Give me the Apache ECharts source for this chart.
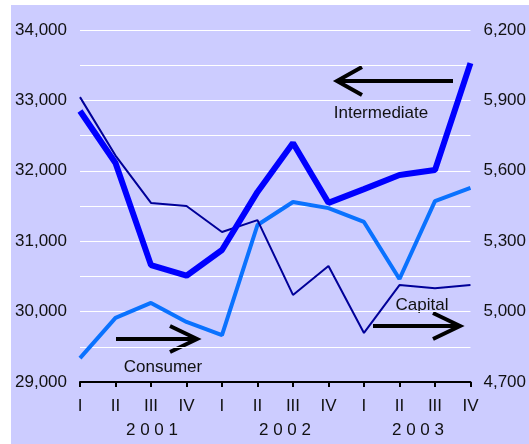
<!DOCTYPE html>
<html>
<head>
<meta charset="utf-8">
<style>
  body { margin: 0; background: #ffffff; }
  #chart { position: absolute; left: 11px; top: 5px; width: 518px; height: 439px; }
</style>
<script src="https://cdn.jsdelivr.net/npm/echarts@6/dist/echarts.min.js"></script>
</head>
<body>
<div id="chart"></div>
<script>
  // quarters 2001 Q1 .. 2003 Q4
  var quarters = ['I', 'II', 'III', 'IV', 'I', 'II', 'III', 'IV', 'I', 'II', 'III', 'IV'];
  var years = ['2 0 0 1', '2 0 0 2', '2 0 0 3'];
  // left axis
  var intermediate = [32850, 32110, 30660, 30510, 30875, 31700, 32395, 31545, 31740, 31940, 32010, 33530];
  // right axis
  var consumer = [4802, 4973, 5037, 4956, 4900, 5369, 5467, 5441, 5382, 5139, 5471, 5527];
  var capital = [5914, 5665, 5463, 5450, 5339, 5390, 5071, 5194, 4909, 5113, 5100, 5113];
  var leftTicks = [29000, 30000, 31000, 32000, 33000, 34000];
  var rightTicks = [4700, 5000, 5300, 5600, 5900, 6200];

  var font = 'Liberation Sans, Arial, sans-serif';
  var chart = echarts.init(document.getElementById('chart'));

  function fmt(v) {
    return v.toLocaleString('en-US');
  }

  var option = {
    backgroundColor: '#CCCCFF',
    animation: false,
    grid: { left: 69, right: 58, top: 25, bottom: 62 },
    xAxis: {
      type: 'category',
      data: quarters,
      boundaryGap: false,
      axisLine: { lineStyle: { color: '#000', width: 2 } },
      axisTick: { length: 5, lineStyle: { color: '#000', width: 2 } },
      axisLabel: { color: '#111', fontSize: 17, fontFamily: font, margin: 16, interval: 0 }
    },
    yAxis: [
      {
        type: 'value',
        min: 29000,
        max: 34000,
        interval: 500,
        axisLine: { show: false },
        axisTick: { show: false },
        splitLine: { lineStyle: { color: '#ffffff', width: 1 } },
        axisLabel: {
          customValues: leftTicks,
          formatter: fmt,
          color: '#111', fontSize: 17, fontFamily: font, margin: 13
        }
      },
      {
        type: 'value',
        min: 4700,
        max: 6200,
        axisLine: { show: false },
        axisTick: { show: false },
        splitLine: { show: false },
        axisLabel: {
          customValues: rightTicks,
          formatter: fmt,
          color: '#111', fontSize: 17, fontFamily: font, margin: 13
        }
      }
    ],
    series: [
      {
        name: 'Consumer', type: 'line', yAxisIndex: 1, data: consumer,
        symbol: 'none', lineStyle: { color: '#0A72FF', width: 4 }
      },
      {
        name: 'Capital', type: 'line', yAxisIndex: 1, data: capital,
        symbol: 'none', lineStyle: { color: '#000099', width: 2 }
      },
      {
        name: 'Intermediate', type: 'line', yAxisIndex: 0, data: intermediate,
        symbol: 'none', lineStyle: { color: '#0000FF', width: 6 }
      }
    ],
    graphic: [
      // arrows showing which axis each series uses
      { type: 'line', shape: { x1: 326, y1: 76, x2: 442, y2: 76 }, style: { stroke: '#000', lineWidth: 4 } },
      { type: 'polyline', shape: { points: [[351, 62], [326, 76], [351, 90]] }, style: { stroke: '#000', lineWidth: 4, fill: null } },
      { type: 'line', shape: { x1: 105, y1: 334, x2: 186, y2: 334 }, style: { stroke: '#000', lineWidth: 4 } },
      { type: 'polyline', shape: { points: [[159, 321], [186, 334], [159, 347]] }, style: { stroke: '#000', lineWidth: 4, fill: null } },
      { type: 'line', shape: { x1: 362, y1: 321, x2: 449, y2: 321 }, style: { stroke: '#000', lineWidth: 4 } },
      { type: 'polyline', shape: { points: [[422, 308], [449, 321], [422, 334]] }, style: { stroke: '#000', lineWidth: 4, fill: null } },
      { type: 'text', x: 370, y: 108, style: { text: 'Intermediate', font: '17px ' + font, fill: '#111', align: 'center', verticalAlign: 'middle' } },
      { type: 'text', x: 152, y: 362, style: { text: 'Consumer', font: '17px ' + font, fill: '#111', align: 'center', verticalAlign: 'middle' } },
      { type: 'text', x: 411, y: 300, style: { text: 'Capital', font: '17px ' + font, fill: '#111', align: 'center', verticalAlign: 'middle' } },
      { type: 'text', x: 141, y: 425, style: { text: years[0], font: '17px ' + font, fill: '#111', align: 'center', verticalAlign: 'middle' } },
      { type: 'text', x: 274, y: 425, style: { text: years[1], font: '17px ' + font, fill: '#111', align: 'center', verticalAlign: 'middle' } },
      { type: 'text', x: 407, y: 425, style: { text: years[2], font: '17px ' + font, fill: '#111', align: 'center', verticalAlign: 'middle' } }
    ]
  };

  chart.setOption(option);
  window.addEventListener('resize', function () {
    chart.resize();
  });
</script>
</body>
</html>
